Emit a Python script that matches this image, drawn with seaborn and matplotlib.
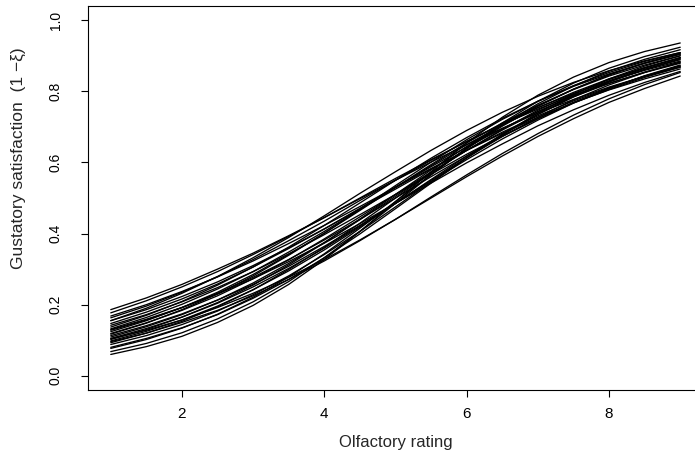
import numpy as np
import pandas as pd
import matplotlib
matplotlib.use("Agg")
import matplotlib.pyplot as plt
import seaborn as sns

# olfactory rating grid and one row of fitted satisfaction per posterior draw
ratings = [1.0, 1.5, 2.0, 2.5, 3.0, 3.5, 4.0, 4.5, 5.0,
           5.5, 6.0, 6.5, 7.0, 7.5, 8.0, 8.5, 9.0]
draws = [
    [0.060, 0.082, 0.111, 0.150, 0.198, 0.257, 0.327, 0.406, 0.490, 0.574, 0.655, 0.727, 0.789, 0.840, 0.881, 0.912, 0.936],
    [0.068, 0.091, 0.121, 0.160, 0.208, 0.265, 0.332, 0.406, 0.485, 0.565, 0.641, 0.711, 0.772, 0.823, 0.865, 0.898, 0.924],
    [0.077, 0.102, 0.134, 0.173, 0.221, 0.278, 0.343, 0.415, 0.490, 0.566, 0.639, 0.706, 0.765, 0.815, 0.857, 0.890, 0.917],
    [0.080, 0.105, 0.135, 0.172, 0.218, 0.271, 0.332, 0.399, 0.470, 0.542, 0.613, 0.679, 0.739, 0.791, 0.835, 0.871, 0.900],
    [0.096, 0.120, 0.150, 0.184, 0.225, 0.271, 0.323, 0.380, 0.440, 0.503, 0.565, 0.625, 0.681, 0.733, 0.779, 0.819, 0.853],
    [0.104, 0.128, 0.157, 0.192, 0.232, 0.277, 0.327, 0.382, 0.440, 0.500, 0.560, 0.618, 0.673, 0.723, 0.769, 0.808, 0.843],
    [0.186, 0.219, 0.257, 0.300, 0.345, 0.394, 0.445, 0.498, 0.550, 0.601, 0.650, 0.696, 0.739, 0.777, 0.812, 0.842, 0.868],
    [0.177, 0.211, 0.250, 0.293, 0.341, 0.392, 0.445, 0.500, 0.555, 0.608, 0.659, 0.707, 0.750, 0.789, 0.823, 0.853, 0.879],
    [0.168, 0.200, 0.237, 0.278, 0.323, 0.372, 0.423, 0.476, 0.530, 0.583, 0.634, 0.682, 0.727, 0.768, 0.804, 0.835, 0.863],
    [0.163, 0.196, 0.235, 0.279, 0.327, 0.380, 0.435, 0.493, 0.550, 0.606, 0.659, 0.709, 0.754, 0.794, 0.829, 0.859, 0.885],
    [0.155, 0.186, 0.223, 0.264, 0.310, 0.360, 0.413, 0.469, 0.525, 0.581, 0.634, 0.685, 0.731, 0.773, 0.810, 0.842, 0.870],
    [0.155, 0.190, 0.232, 0.279, 0.332, 0.389, 0.450, 0.513, 0.574, 0.634, 0.690, 0.741, 0.786, 0.825, 0.858, 0.886, 0.909],
    [0.147, 0.179, 0.216, 0.258, 0.306, 0.358, 0.413, 0.471, 0.530, 0.588, 0.643, 0.695, 0.743, 0.785, 0.822, 0.854, 0.881],
    [0.142, 0.172, 0.208, 0.248, 0.293, 0.343, 0.397, 0.453, 0.510, 0.567, 0.623, 0.675, 0.723, 0.767, 0.805, 0.839, 0.868],
    [0.137, 0.170, 0.209, 0.255, 0.306, 0.362, 0.423, 0.486, 0.550, 0.612, 0.670, 0.724, 0.772, 0.814, 0.849, 0.879, 0.904],
    [0.132, 0.164, 0.201, 0.244, 0.293, 0.348, 0.406, 0.468, 0.530, 0.591, 0.650, 0.705, 0.754, 0.797, 0.835, 0.866, 0.893],
    [0.128, 0.157, 0.192, 0.232, 0.277, 0.327, 0.382, 0.440, 0.500, 0.560, 0.618, 0.673, 0.723, 0.769, 0.808, 0.843, 0.872],
    [0.124, 0.155, 0.192, 0.235, 0.285, 0.341, 0.401, 0.465, 0.530, 0.594, 0.655, 0.711, 0.761, 0.805, 0.843, 0.874, 0.900],
    [0.119, 0.149, 0.184, 0.225, 0.273, 0.326, 0.385, 0.447, 0.510, 0.573, 0.634, 0.691, 0.743, 0.788, 0.828, 0.861, 0.889],
    [0.117, 0.148, 0.186, 0.230, 0.281, 0.339, 0.401, 0.468, 0.535, 0.601, 0.664, 0.721, 0.772, 0.816, 0.853, 0.884, 0.909],
    [0.113, 0.141, 0.174, 0.213, 0.257, 0.308, 0.364, 0.423, 0.485, 0.547, 0.608, 0.666, 0.719, 0.767, 0.808, 0.844, 0.874],
    [0.109, 0.138, 0.172, 0.213, 0.261, 0.316, 0.375, 0.439, 0.505, 0.571, 0.634, 0.693, 0.747, 0.793, 0.833, 0.867, 0.895],
    [0.105, 0.133, 0.165, 0.204, 0.250, 0.302, 0.359, 0.421, 0.485, 0.550, 0.613, 0.673, 0.727, 0.776, 0.818, 0.853, 0.883],
    [0.102, 0.130, 0.165, 0.206, 0.255, 0.312, 0.374, 0.441, 0.510, 0.579, 0.645, 0.705, 0.759, 0.806, 0.846, 0.879, 0.905],
    [0.098, 0.125, 0.157, 0.196, 0.242, 0.295, 0.354, 0.418, 0.485, 0.552, 0.618, 0.679, 0.735, 0.784, 0.826, 0.862, 0.891],
    [0.093, 0.120, 0.153, 0.194, 0.242, 0.299, 0.361, 0.429, 0.500, 0.571, 0.639, 0.702, 0.758, 0.806, 0.847, 0.880, 0.907],
    [0.088, 0.113, 0.144, 0.182, 0.228, 0.281, 0.341, 0.406, 0.475, 0.545, 0.613, 0.677, 0.735, 0.786, 0.829, 0.865, 0.895],
    [0.130, 0.159, 0.192, 0.230, 0.273, 0.321, 0.373, 0.428, 0.485, 0.542, 0.599, 0.652, 0.703, 0.748, 0.789, 0.825, 0.856],
]
x_ticks = [2, 4, 6, 8]
y_ticks = [0.0, 0.2, 0.4, 0.6, 0.8, 1.0]

rows = []
for i, ys in enumerate(draws):
    for x, y in zip(ratings, ys):
        rows.append({'draw': i, 'rating': x, 'satisfaction': y})
df = pd.DataFrame(rows)

sns.set_style('ticks')
plt.rcParams['font.family'] = ['Liberation Sans', 'DejaVu Sans']

fig = plt.figure(figsize=(6.95, 4.51), dpi=100)
# plot region runs past the right edge of the picture, as in the cropped original
ax = fig.add_axes([88 / 695, 61 / 451, 615 / 695, 384 / 451])

sns.lineplot(data=df, x='rating', y='satisfaction', units='draw',
             estimator=None, color='black', lw=0.95, ax=ax, legend=False)

ax.set_xlim(0.68, 9.32)
ax.set_ylim(-0.04, 1.04)
ax.set_xticks(x_ticks)
ax.set_xticklabels([str(t) for t in x_ticks])
ax.set_yticks(y_ticks)
ax.set_yticklabels([f'{t:.1f}' for t in y_ticks])

for s in ['left', 'top', 'bottom', 'right']:
    ax.spines[s].set_visible(True)
    ax.spines[s].set_color('black')
    ax.spines[s].set_linewidth(0.8)

ax.tick_params(axis='both', direction='out', length=5, width=0.8,
               colors='black')
ax.tick_params(axis='x', pad=7, labelsize=11)
ax.tick_params(axis='y', pad=13, labelsize=10, labelrotation=90)
for lab in ax.get_yticklabels():
    lab.set_va('center')

ax.set_xlabel('Olfactory rating', fontsize=12)
ax.set_ylabel('Gustatory satisfaction  (1 \u2212\u03be)', fontsize=12.5)
ax.xaxis.set_label_coords(0.5, -(442 - 390) / 384)
ax.yaxis.set_label_coords(-(88 - 18) / 615, (390 - 158) / 384)
ax.xaxis.label.set_va('center')
ax.yaxis.label.set_va('center')

fig.savefig('out.png', dpi=100)
